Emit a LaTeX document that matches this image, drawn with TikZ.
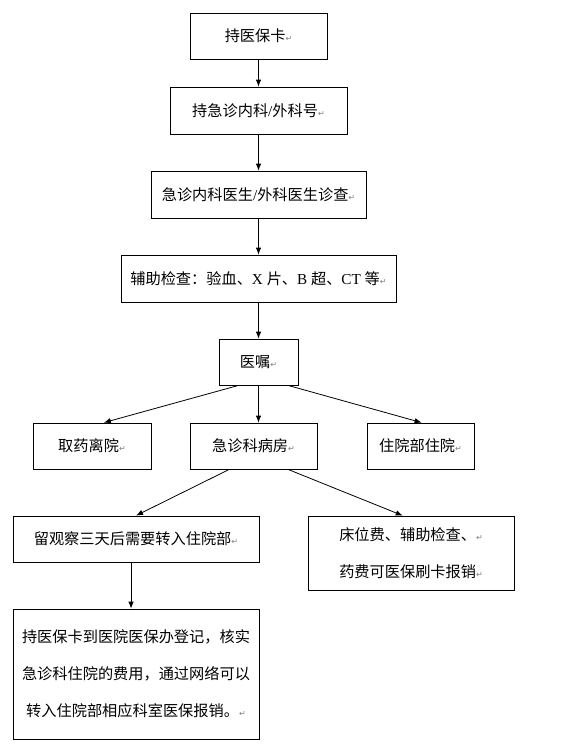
\documentclass[tikz,border=0pt]{standalone}
\usepackage{fontspec}
\usetikzlibrary{arrows.meta,calc}
\newfontfamily\cjk{Noto Sans CJK SC}
\newfontfamily\lat{Liberation Serif}
\newfontfamily\symf{DejaVu Sans}
\newcommand{\parmark}{{\symf\color{gray}\fontsize{8}{8}\selectfont ↵}}
\newcommand{\lt}[1]{{\lat #1}}
\tikzset{
  box/.style={draw, line width=0.8pt, inner sep=0pt, align=center,
    font=\cjk\fontsize{15.2}{37}\selectfont},
  arr/.style={line width=0.8pt, -{Latex[length=7pt,width=5.5pt]}}
}
\begin{document}
\begin{tikzpicture}[x=1pt,y=-1pt]
\useasboundingbox (0,0) rectangle (572,747);
\node[box, minimum width=137pt, minimum height=46pt] (b1) at (258.5,36) {持医保卡\parmark};
\node[box, minimum width=177pt, minimum height=47pt] (b2) at (258.5,110.5) {持急诊内科\lt{/}外科号\parmark};
\node[box, minimum width=215pt, minimum height=47pt] (b3) at (258.5,194.5) {急诊内科医生\lt{/}外科医生诊查\parmark};
\node[box, minimum width=275pt, minimum height=47pt] (b4) at (258.5,278.5) {辅助检查：验血、\lt{X }片、\lt{B }超、\lt{CT }等\parmark};
\node[box, minimum width=79pt, minimum height=46pt] (b5) at (258.5,362) {医嘱\parmark};
\node[box, minimum width=118pt, minimum height=46pt] (b6) at (92,446) {取药离院\parmark};
\node[box, minimum width=127pt, minimum height=46pt] (b7) at (253.5,446) {急诊科病房\parmark};
\node[box, minimum width=107pt, minimum height=46pt] (b8) at (420.5,446) {住院部住院\parmark};
\node[box, minimum width=246pt, minimum height=46pt] (b9) at (136,539) {留观察三天后需要转入住院部\parmark};
\node[box, minimum width=206pt, minimum height=74pt] (b10) at (411,553) {床位费、辅助检查、\parmark\\药费可医保刷卡报销\parmark};
\node[box, minimum width=246pt, minimum height=130pt] (b11) at (136,674) {持医保卡到医院医保办登记，核实\\急诊科住院的费用，通过网络可以\\转入住院部相应科室医保报销。\parmark};
\draw[arr] (b1.south) -- (b2.north);
\draw[arr] (b2.south) -- (b3.north);
\draw[arr] (b3.south) -- (b4.north);
\draw[arr] (b4.south) -- (b5.north);
\draw[arr] (b5.south) -- (b5.south |- b7.north);
\draw[arr] ($(b5.south west)!0.25!(b5.south east)$) -- ($(b6.north west)!0.6!(b6.north east)$);
\draw[arr] ($(b5.south west)!0.87!(b5.south east)$) -- ($(b8.north west)!0.51!(b8.north east)$);
\draw[arr] ($(b7.south west)!0.31!(b7.south east)$) -- ($(b9.north west)!0.5!(b9.north east)$);
\draw[arr] ($(b7.south west)!0.77!(b7.south east)$) -- ($(b10.north west)!0.46!(b10.north east)$);
\draw[arr] ($(b9.south west)!0.48!(b9.south east)$) -- ($(b11.north west)!0.48!(b11.north east)$);
\end{tikzpicture}
\end{document}
